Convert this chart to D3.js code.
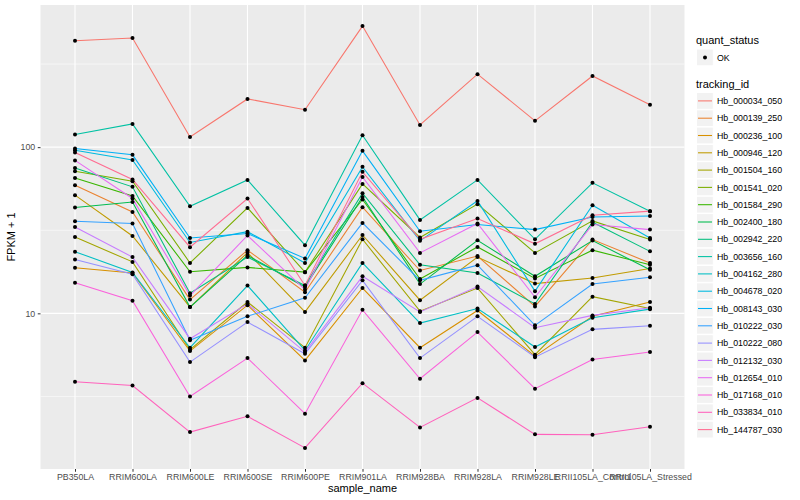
<!DOCTYPE html>
<html>
<head>
<meta charset="utf-8">
<script src="https://cdn.jsdelivr.net/npm/d3@7"></script>
<style>
body{margin:0;background:#fff}
svg text{font-family:"Liberation Sans",Arial,Helvetica,sans-serif}
</style>
</head>
<body>
<div id="chart"></div>
<script>
// samples on the x axis
const samples = ["PB350LA","RRIM600LA","RRIM600LE","RRIM600SE","RRIM600PE","RRIM901LA",
  "RRIM928BA","RRIM928LA","RRIM928LE","RRII105LA_Control","RRII105LA_Stressed"];

const trackingIds = ["Hb_000034_050","Hb_000139_250","Hb_000236_100","Hb_000946_120","Hb_001504_160",
  "Hb_001541_020","Hb_001584_290","Hb_002400_180","Hb_002942_220","Hb_003656_160","Hb_004162_280",
  "Hb_004678_020","Hb_008143_030","Hb_010222_030","Hb_010222_080","Hb_012132_030","Hb_012654_010",
  "Hb_017168_010","Hb_033834_010","Hb_144787_030"];

const colors = ["#F8766D","#EA8331","#D89000","#C09B00","#A3A500","#7CAE00","#39B600","#00BB4E",
  "#00BF7D","#00C1A3","#00BFC4","#00BAE0","#00B0F6","#35A2FF","#9590FF","#C77CFF","#E76BF3",
  "#FA62DB","#FF62BC","#FF6C91"];

// FPKM + 1, one array per gene, in sample order
const hb_000034_050 = [437, 454, 115, 195, 168, 535, 136, 275, 144, 268, 180];
const hb_000139_250 = [59.0, 40.7, 12.1, 24.0, 13.4, 43.5, 18.1, 22.1, 11.0, 27.8, 20.1];
const hb_000236_100 = [18.8, 17.5, 5.93, 11.2, 5.21, 14.2, 6.21, 10.4, 5.53, 9.6, 11.7];
const hb_000946_120 = [51.4, 29.2, 10.9, 23.2, 10.2, 29.6, 12.0, 21.8, 15.1, 16.3, 18.6];
const hb_001504_160 = [28.8, 20.4, 6.04, 11.7, 6.21, 27.9, 10.3, 14.2, 5.64, 12.6, 10.7];
const hb_001541_020 = [71.6, 62.4, 20.1, 43.1, 17.7, 60.1, 28.6, 45.4, 23.1, 36.0, 27.8];
const hb_001584_290 = [65.3, 50.9, 17.8, 18.9, 17.7, 48.4, 16.1, 25.1, 16.2, 24.0, 19.6];
const hb_002400_180 = [43.3, 46.8, 10.9, 22.3, 14.4, 50.2, 15.0, 27.5, 16.7, 27.4, 18.3];
const hb_002942_220 = [75.0, 57.7, 13.2, 21.8, 14.7, 52.8, 19.6, 17.5, 11.4, 35.3, 23.6];
const hb_003656_160 = [119, 138, 44.1, 63.5, 25.7, 118, 36.5, 63.5, 27.9, 61.0, 41.2];
const hb_004162_280 = [23.5, 17.6, 6.21, 14.7, 5.98, 20.1, 8.74, 10.7, 6.27, 9.42, 10.6];
const hb_004678_020 = [95.9, 83.8, 26.7, 31.0, 20.1, 76.1, 27.3, 47.5, 13.6, 44.7, 28.4];
const hb_008143_030 = [98.2, 89.9, 28.4, 30.2, 21.4, 95.0, 31.2, 34.2, 31.9, 38.0, 38.5];
const hb_010222_030 = [35.8, 34.7, 6.88, 9.6, 12.4, 35.0, 15.8, 19.5, 8.47, 15.0, 16.5];
const hb_010222_080 = [21.1, 17.2, 5.09, 8.86, 5.71, 15.8, 5.38, 9.6, 5.45, 8.01, 8.43];
const hb_012132_030 = [33.1, 21.8, 7.04, 11.4, 5.85, 16.7, 10.2, 14.5, 8.20, 9.72, 10.8];
const hb_012654_010 = [83.2, 49.1, 12.8, 29.4, 13.9, 66.2, 23.1, 34.7, 12.5, 34.2, 31.9];
const hb_017168_010 = [15.3, 11.9, 3.16, 5.38, 2.49, 10.5, 4.04, 7.71, 3.52, 5.28, 5.85];
const hb_033834_010 = [3.88, 3.68, 1.93, 2.40, 1.55, 3.80, 2.06, 3.10, 1.87, 1.86, 2.08];
const hb_144787_030 = [92.9, 63.9, 25.0, 49.1, 14.7, 71.0, 27.9, 37.2, 26.2, 38.9, 41.2];

const series = [hb_000034_050, hb_000139_250, hb_000236_100, hb_000946_120, hb_001504_160,
  hb_001541_020, hb_001584_290, hb_002400_180, hb_002942_220, hb_003656_160, hb_004162_280,
  hb_004678_020, hb_008143_030, hb_010222_030, hb_010222_080, hb_012132_030, hb_012654_010,
  hb_017168_010, hb_033834_010, hb_144787_030];

const yBreaks = [10, 100];
const yLabels = ["10", "100"];

const width = 800, height = 500;
const panel = {left: 40.5, right: 684.5, top: 5, bottom: 469};

const svg = d3.select("#chart").append("svg")
  .attr("width", width).attr("height", height);

svg.append("rect").attr("width", width).attr("height", height).attr("fill", "#fff");

const x = d3.scalePoint().domain(samples).range([panel.left, panel.right]).padding(0.6);

// log scale expanded by 5% like ggplot
const all = series.flat();
const lo = Math.log10(d3.min(all)), hi = Math.log10(d3.max(all));
const pad = (hi - lo) * 0.05;
const y = d3.scaleLog().domain([10 ** (lo - pad), 10 ** (hi + pad)]).range([panel.bottom, panel.top]);

svg.append("rect")
  .attr("x", panel.left).attr("y", panel.top)
  .attr("width", panel.right - panel.left).attr("height", panel.bottom - panel.top)
  .attr("fill", "#EBEBEB");

// minor grid halfway between decades
const minor = [];
for (let e = Math.floor(lo - pad); e <= Math.ceil(hi + pad); e++) {
  const v = 10 ** (e + 0.5);
  if (v > y.domain()[0] && v < y.domain()[1]) minor.push(v);
}
svg.append("g").selectAll("line").data(minor).join("line")
  .attr("x1", panel.left).attr("x2", panel.right)
  .attr("y1", d => y(d)).attr("y2", d => y(d))
  .attr("stroke", "#fff").attr("stroke-width", 0.55);

svg.append("g").selectAll("line").data(yBreaks).join("line")
  .attr("x1", panel.left).attr("x2", panel.right)
  .attr("y1", d => y(d)).attr("y2", d => y(d))
  .attr("stroke", "#fff").attr("stroke-width", 1.1);

svg.append("g").selectAll("line").data(samples).join("line")
  .attr("x1", d => x(d)).attr("x2", d => x(d))
  .attr("y1", panel.top).attr("y2", panel.bottom)
  .attr("stroke", "#fff").attr("stroke-width", 1.1);

const line = d3.line().x((d, i) => x(samples[i])).y(d => y(d));

const rows = trackingIds.map((id, i) => ({id, color: colors[i], vals: series[i]}));

svg.append("g").selectAll("path").data(rows).join("path")
  .attr("d", r => line(r.vals))
  .attr("fill", "none")
  .attr("stroke", r => r.color)
  .attr("stroke-width", 1.07);

const pts = rows.flatMap(r => r.vals.map((v, i) => ({s: samples[i], v})));
svg.append("g").selectAll("circle").data(pts).join("circle")
  .attr("cx", d => x(d.s)).attr("cy", d => y(d.v))
  .attr("r", 2).attr("fill", "#000");

// axes
const xAxis = svg.append("g")
  .attr("transform", `translate(0,${panel.bottom})`)
  .call(d3.axisBottom(x).tickSize(2.75).tickPadding(2.5));
const yAxis = svg.append("g")
  .attr("transform", `translate(${panel.left},0)`)
  .call(d3.axisLeft(y).tickValues(yBreaks).tickFormat((d, i) => yLabels[i]).tickSize(2.75).tickPadding(2.5));

[xAxis, yAxis].forEach(g => {
  g.select(".domain").remove();
  g.selectAll(".tick line").attr("stroke", "#333");
  g.selectAll(".tick text").attr("fill", "#4D4D4D").style("font-size", "8.8px")
    .style("font-family", "'Liberation Sans',Arial,sans-serif");
});

svg.append("text")
  .attr("x", (panel.left + panel.right) / 2).attr("y", 492)
  .attr("text-anchor", "middle").style("font-size", "11px").attr("fill", "#000")
  .text("sample_name");

svg.append("text")
  .attr("transform", `translate(15,${(panel.top + panel.bottom) / 2}) rotate(-90)`)
  .attr("text-anchor", "middle").style("font-size", "11px").attr("fill", "#000")
  .text("FPKM + 1");

// legends
const lg = svg.append("g").attr("transform", "translate(696,0)");
lg.append("text").attr("x", 0).attr("y", 44).style("font-size", "11px").text("quant_status");
lg.append("rect").attr("x", 0.5).attr("y", 49).attr("width", 16.8).attr("height", 16.8)
  .attr("fill", "#F2F2F2").attr("stroke", "#fff");
lg.append("circle").attr("cx", 9).attr("cy", 57.4).attr("r", 2).attr("fill", "#000");
lg.append("text").attr("x", 21).attr("y", 60.5).style("font-size", "8.8px").text("OK");

lg.append("text").attr("x", 0).attr("y", 88).style("font-size", "11px").text("tracking_id");
const key = lg.selectAll("g.key").data(rows).join("g")
  .attr("class", "key")
  .attr("transform", (d, i) => `translate(0,${92.5 + i * 17.3})`);
key.append("rect").attr("x", 0.5).attr("y", 0).attr("width", 16.8).attr("height", 16.8)
  .attr("fill", "#F2F2F2").attr("stroke", "#fff");
key.append("line").attr("x1", 2).attr("x2", 16).attr("y1", 8.4).attr("y2", 8.4)
  .attr("stroke", d => d.color).attr("stroke-width", 1.07);
key.append("text").attr("x", 21).attr("y", 11.5).style("font-size", "8.8px").text(d => d.id);
</script>
</body>
</html>
